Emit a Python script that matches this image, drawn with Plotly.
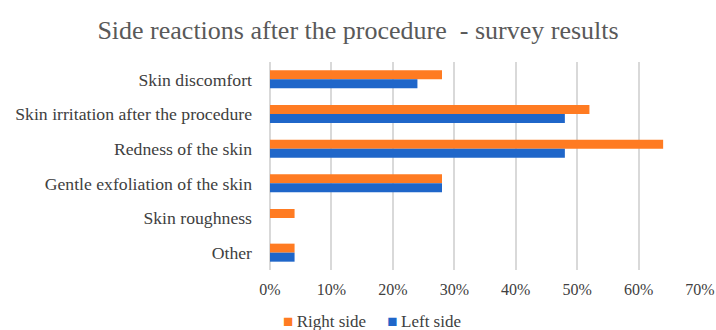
import plotly.graph_objects as go

categories = [
    "Skin discomfort",
    "Skin irritation after the procedure",
    "Redness of the skin",
    "Gentle exfoliation of the skin",
    "Skin roughness",
    "Other",
]
series_names = ["Right side", "Left side"]
right_side = [0.28, 0.52, 0.64, 0.28, 0.04, 0.04]
left_side = [0.24, 0.48, 0.48, 0.28, 0.00, 0.04]
x_ticks = [0, 0.1, 0.2, 0.3, 0.4, 0.5, 0.6, 0.7]

ORANGE = "#FF7B22"
BLUE = "#1F66C9"
FONT = "Liberation Serif"
TEXT = "#404040"

fig = go.Figure()
fig.add_trace(go.Bar(
    y=categories, x=right_side, name=series_names[0], orientation="h",
    marker=dict(color=ORANGE, line=dict(width=0)), showlegend=False,
))
fig.add_trace(go.Bar(
    y=categories, x=left_side, name=series_names[1], orientation="h",
    marker=dict(color=BLUE, line=dict(width=0)), showlegend=False,
))

# compact legend row under the axis: small square swatch + series name
legend_text = "\u00a0" * 5
legend_text = legend_text.join(
    f"<span style='color:{c}'>■</span>\u2009{n}"
    for c, n in zip([ORANGE, BLUE], series_names)
)
fig.add_annotation(
    text=legend_text, xref="paper", yref="paper",
    x=(372 - 270) / 430, xanchor="center",
    y=-(321 - 270) / 208, yanchor="middle",
    showarrow=False, font=dict(family=FONT, size=17, color=TEXT),
)

fig.update_layout(
    width=716, height=330,
    margin=dict(l=270, r=16, t=62, b=60, autoexpand=False),
    paper_bgcolor="white", plot_bgcolor="white",
    barmode="group", bargap=0.48, bargroupgap=0,
    font=dict(family=FONT, color=TEXT, size=16),
    showlegend=False,
    title=dict(
        text="Side reactions after the procedure  - survey results",
        x=0.5, xref="container", xanchor="center",
        y=1 - 30 / 330, yref="container", yanchor="middle",
        font=dict(family=FONT, size=26, color="#595959"),
    ),
    xaxis=dict(
        range=[0, 0.7], tickvals=x_ticks, tickformat=".0%",
        showgrid=True, gridcolor="#D9D9D9", gridwidth=1.5,
        zeroline=True, zerolinecolor="#D9D9D9", zerolinewidth=1.5,
        showline=False, tickfont=dict(size=16, color=TEXT),
        ticklabelstandoff=8, fixedrange=True, automargin=False,
    ),
    yaxis=dict(
        autorange="reversed", showgrid=False, showline=False,
        ticks="", ticklabelstandoff=17,
        tickfont=dict(size=17.7, color=TEXT),
        fixedrange=True, automargin=False,
    ),
)

fig.write_html("out.html")
